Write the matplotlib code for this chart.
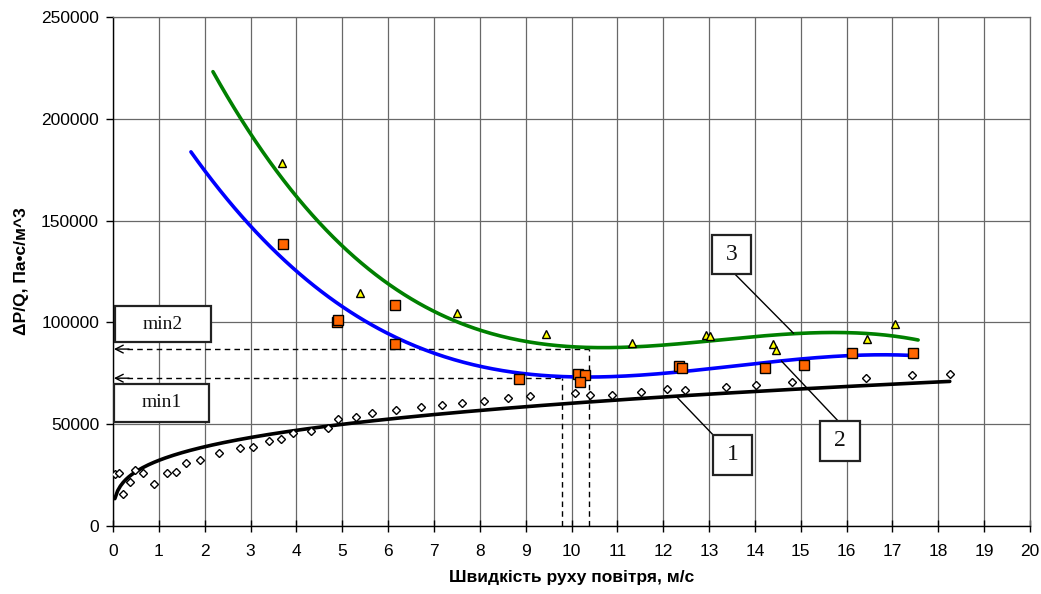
import numpy as np
import matplotlib
matplotlib.use("Agg")
import matplotlib.pyplot as plt
from matplotlib.patches import Rectangle

# Series 1 (diamonds)
x1 = [0.04, 0.13, 0.22, 0.37, 0.48, 0.65, 0.90, 1.17, 1.37, 1.59, 1.90, 2.31, 2.77,
      3.06, 3.41, 3.67, 3.92, 4.32, 4.68, 4.91, 5.29, 5.65, 6.17, 6.72, 7.18, 7.61,
      8.10, 8.62, 9.09, 10.08, 10.40, 10.89, 11.51, 12.09, 12.48, 13.37, 14.02,
      14.82, 16.42, 17.43, 18.25]
y1 = [25400, 25900, 15700, 21800, 27500, 26200, 20600, 26200, 26500, 30800, 32400,
      36000, 38500, 38700, 41600, 42600, 45500, 46800, 48300, 52500, 53400, 55300,
      57000, 58450, 59300, 60400, 61400, 62700, 64000, 65500, 64500, 64300, 65800,
      67300, 66800, 68400, 69400, 70900, 72700, 74300, 74800]

# Series 2 (squares)
x2 = [3.70, 4.88, 4.90, 6.14, 6.15, 8.85, 10.15, 10.29, 10.19, 12.35, 12.42, 14.22,
      15.07, 16.11, 17.45]
y2 = [138400, 100400, 101200, 108600, 89200, 72200, 74500, 74200, 70900, 78600,
      77800, 77500, 79100, 84800, 84800]

# Series 3 (triangles)
x3 = [3.68, 5.39, 7.51, 9.44, 11.33, 12.93, 13.01, 14.40, 14.45, 16.45, 17.06]
y3 = [178500, 114300, 104500, 94200, 89700, 93800, 93500, 89200, 86400, 91700, 99200]

min1_x, min1_y = 9.79, 72600
min2_x, min2_y = 10.38, 86900

x_ticks = list(range(0, 21))
y_ticks = list(range(0, 250001, 50000))

plt.rcParams['font.family'] = ['Liberation Sans', 'DejaVu Sans']

fig = plt.figure(figsize=(10.41, 5.94), dpi=100)
ax = fig.add_axes([113/1041, 68/594, 917/1041, 509/594])

# Trend lines: power law for series 1, cubic polynomials for series 2 and 3
xa1, ya1 = np.array(x1), np.array(y1)
b, ln_a = np.polyfit(np.log(xa1), np.log(ya1), 1)
t1 = np.linspace(xa1.min(), xa1.max(), 300)
ax.plot(t1, np.exp(ln_a) * t1 ** b, color="black", lw=2.6, zorder=3,
        solid_capstyle='round')

p2 = np.polyfit(x2, y2, 3)
t2 = np.linspace(min(x2) - 2.0, max(x2), 300)
ax.plot(t2, np.polyval(p2, t2), color="#0000FF", lw=2.6, zorder=3,
        solid_capstyle='round')

p3 = np.polyfit(x3, y3, 3)
t3 = np.linspace(min(x3) - 1.5, max(x3) + 0.5, 300)
ax.plot(t3, np.polyval(p3, t3), color="#008000", lw=2.6, zorder=3,
        solid_capstyle='round')

ax.plot(x1, y1, 'D', ms=4.5, mfc='white', mec='black', mew=1, zorder=4)
ax.plot(x2, y2, 's', ms=6.5, mfc='#FF6600', mec='black', mew=1, zorder=4)
ax.plot(x3, y3, '^', ms=6, mfc='#FFFF00', mec='black', mew=1, zorder=4)

# Dashed guides to the minima with arrows to the resistance axis
for mx, my in ((min1_x, min1_y), (min2_x, min2_y)):
    ax.plot([mx, mx], [0, my], ls=(0, (4, 3)), color='black', lw=1, zorder=2)
    ax.plot([0.3, mx], [my, my], ls=(0, (4, 3)), color='black', lw=1, zorder=2)
    ax.annotate('', xy=(0.02, my), xytext=(0.35, my),
                arrowprops=dict(arrowstyle='->', color='black', lw=1,
                                mutation_scale=14, shrinkA=0, shrinkB=0),
                zorder=2)

# Labelled boxes
def box(x0, y0, x1_, y1_, text, size):
    r = Rectangle((x0, y0), x1_ - x0, y1_ - y0, facecolor='white',
                  edgecolor='#222222', lw=1.6, zorder=6)
    ax.add_patch(r)
    ax.text((x0 + x1_) / 2, (y0 + y1_) / 2, text, ha='center', va='center',
            fontsize=size, family='Liberation Serif', color='#111111', zorder=7)

box(0.04, 90200, 2.13, 108200, 'min2', 14)
box(0.03, 51200, 2.09, 69700, 'min1', 14)

# Leader lines from curves to number boxes
ax.plot([12.29, 13.09], [63500, 44700], color='black', lw=1, zorder=5)
ax.plot([14.58, 15.81], [81000, 51700], color='black', lw=1, zorder=5)
ax.plot([13.57, 14.84], [123600, 94700], color='black', lw=1, zorder=5)

box(13.09, 25100, 13.94, 44700, '1', 17)
box(15.43, 31900, 16.29, 51600, '2', 17)
box(13.06, 123600, 13.91, 142900, '3', 17)

ax.set_xlim(0, 20)
ax.set_ylim(0, 250000)
ax.set_xticks(x_ticks)
ax.set_yticks(y_ticks)
ax.set_yticklabels([str(v) for v in y_ticks])
ax.grid(True, color='#686868', lw=0.9, zorder=0)
ax.set_axisbelow(True)

for s in ('top', 'right'):
    ax.spines[s].set_color('#686868')
    ax.spines[s].set_linewidth(0.9)
for s in ('left', 'bottom'):
    ax.spines[s].set_color('black')
    ax.spines[s].set_linewidth(1.0)

ax.tick_params(axis='x', direction='inout', length=8, width=1, labelsize=12.5, pad=9)
ax.tick_params(axis='y', direction='out', length=5, width=1, labelsize=12.5, pad=5)

ax.set_xlabel('Швидкість руху повітря, м/с', fontsize=12.5, fontweight='bold',
              labelpad=8)
ax.set_ylabel('ΔP/Q, Па•с/м^3', fontsize=12.5, fontweight='bold', labelpad=9)

fig.savefig("out.png", dpi=100)
